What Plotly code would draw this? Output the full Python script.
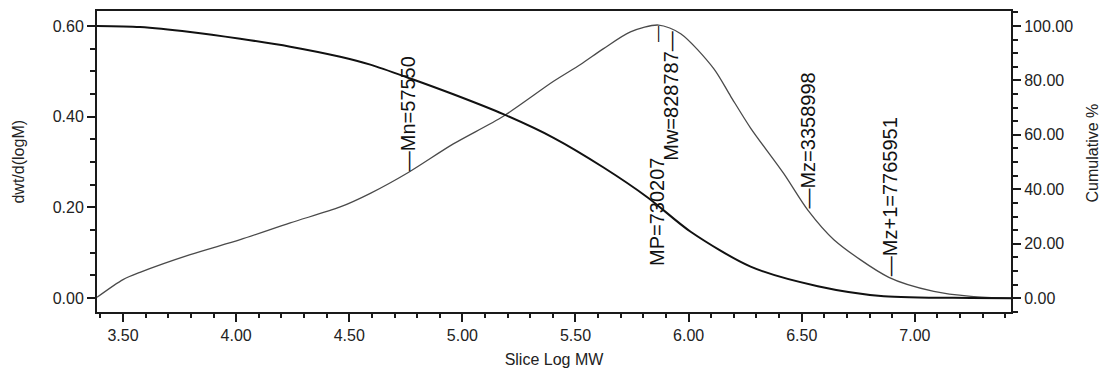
import numpy as np
import plotly.graph_objects as go

# ---- data ----
dist_logm = [3.385, 3.50, 3.575, 3.797, 4.018, 4.239, 4.460, 4.593, 4.761, 4.960, 5.181,
             5.403, 5.522, 5.624, 5.743, 5.867, 5.965, 6.111, 6.186, 6.274, 6.420, 6.527,
             6.642, 6.885, 7.084, 7.248, 7.425]
dist_vals = [0.002, 0.041, 0.057, 0.096, 0.129, 0.166, 0.201, 0.231, 0.277, 0.340, 0.401,
             0.478, 0.515, 0.550, 0.587, 0.602, 0.583, 0.506, 0.445, 0.375, 0.275, 0.194,
             0.129, 0.046, 0.015, 0.004, 0.000]

cum_logm = [3.385, 3.575, 3.797, 4.018, 4.239, 4.460, 4.593, 4.770, 4.960, 5.181, 5.403,
            5.624, 5.819, 6.009, 6.274, 6.571, 6.863, 7.248, 7.425]
cum_vals = [100.0, 99.6, 97.8, 95.3, 92.4, 88.7, 85.8, 80.7, 74.9, 67.6, 58.9,
            48.0, 37.0, 24.4, 11.6, 4.4, 0.7, 0.1, 0.0]

mw_names = ["Mn", "Mw", "MP", "Mz", "Mz+1"]
mw_values = [57550, 828787, 730207, 3358998, 7765951]

left_ticks = [0.0, 0.2, 0.4, 0.6]
right_ticks = [0, 20, 40, 60, 80, 100]
x_ticks = [3.5, 4.0, 4.5, 5.0, 5.5, 6.0, 6.5, 7.0]

FONT = "Liberation Sans, Arial, sans-serif"
AX = "#1a1a1a"

fig = go.Figure()
fig.add_trace(go.Scatter(x=dist_logm, y=dist_vals, mode="lines",
                         line=dict(color="#4a4a4a", width=1.3, shape="spline", smoothing=0.8),
                         yaxis="y", showlegend=False, hoverinfo="skip"))
fig.add_trace(go.Scatter(x=cum_logm, y=cum_vals, mode="lines",
                         line=dict(color="#111111", width=2, shape="spline", smoothing=0.8),
                         yaxis="y2", showlegend=False, hoverinfo="skip"))

lab_font = dict(family=FONT, size=20, color="#111111")

def dist_at(m):
    return float(np.interp(np.log10(m), dist_logm, dist_vals))

for name, val in zip(mw_names, mw_values):
    lx = float(np.log10(val))
    ly = dist_at(val)
    if name == "Mw":
        fig.add_annotation(x=lx, y=ly, xref="x", yref="y", text=f"{name}={val}—",
                           textangle=-90, showarrow=False, xanchor="center", yanchor="top",
                           font=lab_font, borderpad=0)
    elif name == "MP":
        fig.add_annotation(x=lx, y=ly, xref="x", yref="y", text="—",
                           textangle=-90, showarrow=False, xanchor="center", yanchor="top",
                           font=dict(family=FONT, size=16, color="#111111"), borderpad=0)
        fig.add_annotation(x=lx, y=0.068, xref="x", yref="y", text=f"{name}={val}",
                           textangle=-90, showarrow=False, xanchor="center", yanchor="bottom",
                           font=lab_font, borderpad=0)
    else:
        fig.add_annotation(x=lx, y=ly, xref="x", yref="y", text=f"—{name}={val}",
                           textangle=-90, showarrow=False, xanchor="center", yanchor="bottom",
                           font=lab_font, borderpad=0)

# axis titles
fig.add_annotation(x=-0.0864, y=0.5, xref="paper", yref="paper", text="dwt/d(logM)",
                   textangle=-90, showarrow=False, xanchor="center", yanchor="middle",
                   font=dict(family=FONT, size=16, color="#222"))
fig.add_annotation(x=1.0886, y=0.53, xref="paper", yref="paper", text="Cumulative %",
                   textangle=-90, showarrow=False, xanchor="center", yanchor="middle",
                   font=dict(family=FONT, size=16, color="#222"))

tick_font = dict(family=FONT, size=16, color="#222222")

fig.update_layout(
    width=1106, height=375,
    margin=dict(l=97, r=95, t=9, b=62),
    paper_bgcolor="white", plot_bgcolor="white",
    xaxis=dict(range=[3.385, 7.425], tickvals=x_ticks, tickformat=".2f",
               ticks="outside", ticklen=8, tickwidth=1.5, tickcolor=AX,
               minor=dict(dtick=0.1, tick0=3.5, ticks="outside", ticklen=4, tickwidth=1.5, tickcolor=AX),
               showline=True, linecolor=AX, linewidth=2, mirror=True,
               showgrid=False, zeroline=False, tickfont=tick_font,
               title=dict(text="Slice Log MW", font=dict(family=FONT, size=16, color="#222"), standoff=11)),
    yaxis=dict(range=[-0.0305, 0.633], tickvals=left_ticks, tickformat=".2f",
               ticks="outside", ticklen=8, tickwidth=1.5, tickcolor=AX,
               minor=dict(dtick=0.05, tick0=0, ticks="outside", ticklen=5, tickwidth=1.5, tickcolor=AX),
               showline=True, linecolor=AX, linewidth=2,
               showgrid=False, zeroline=False, tickfont=tick_font),
    yaxis2=dict(range=[-5.083, 105.5], tickvals=right_ticks, tickformat=".2f",
                overlaying="y", side="right",
                ticks="outside", ticklen=8, tickwidth=1.5, tickcolor=AX,
                minor=dict(dtick=5, tick0=0, ticks="outside", ticklen=5, tickwidth=1.5, tickcolor=AX),
                showline=True, linecolor=AX, linewidth=2,
                showgrid=False, zeroline=False, tickfont=tick_font),
)

fig.write_html("out.html")
